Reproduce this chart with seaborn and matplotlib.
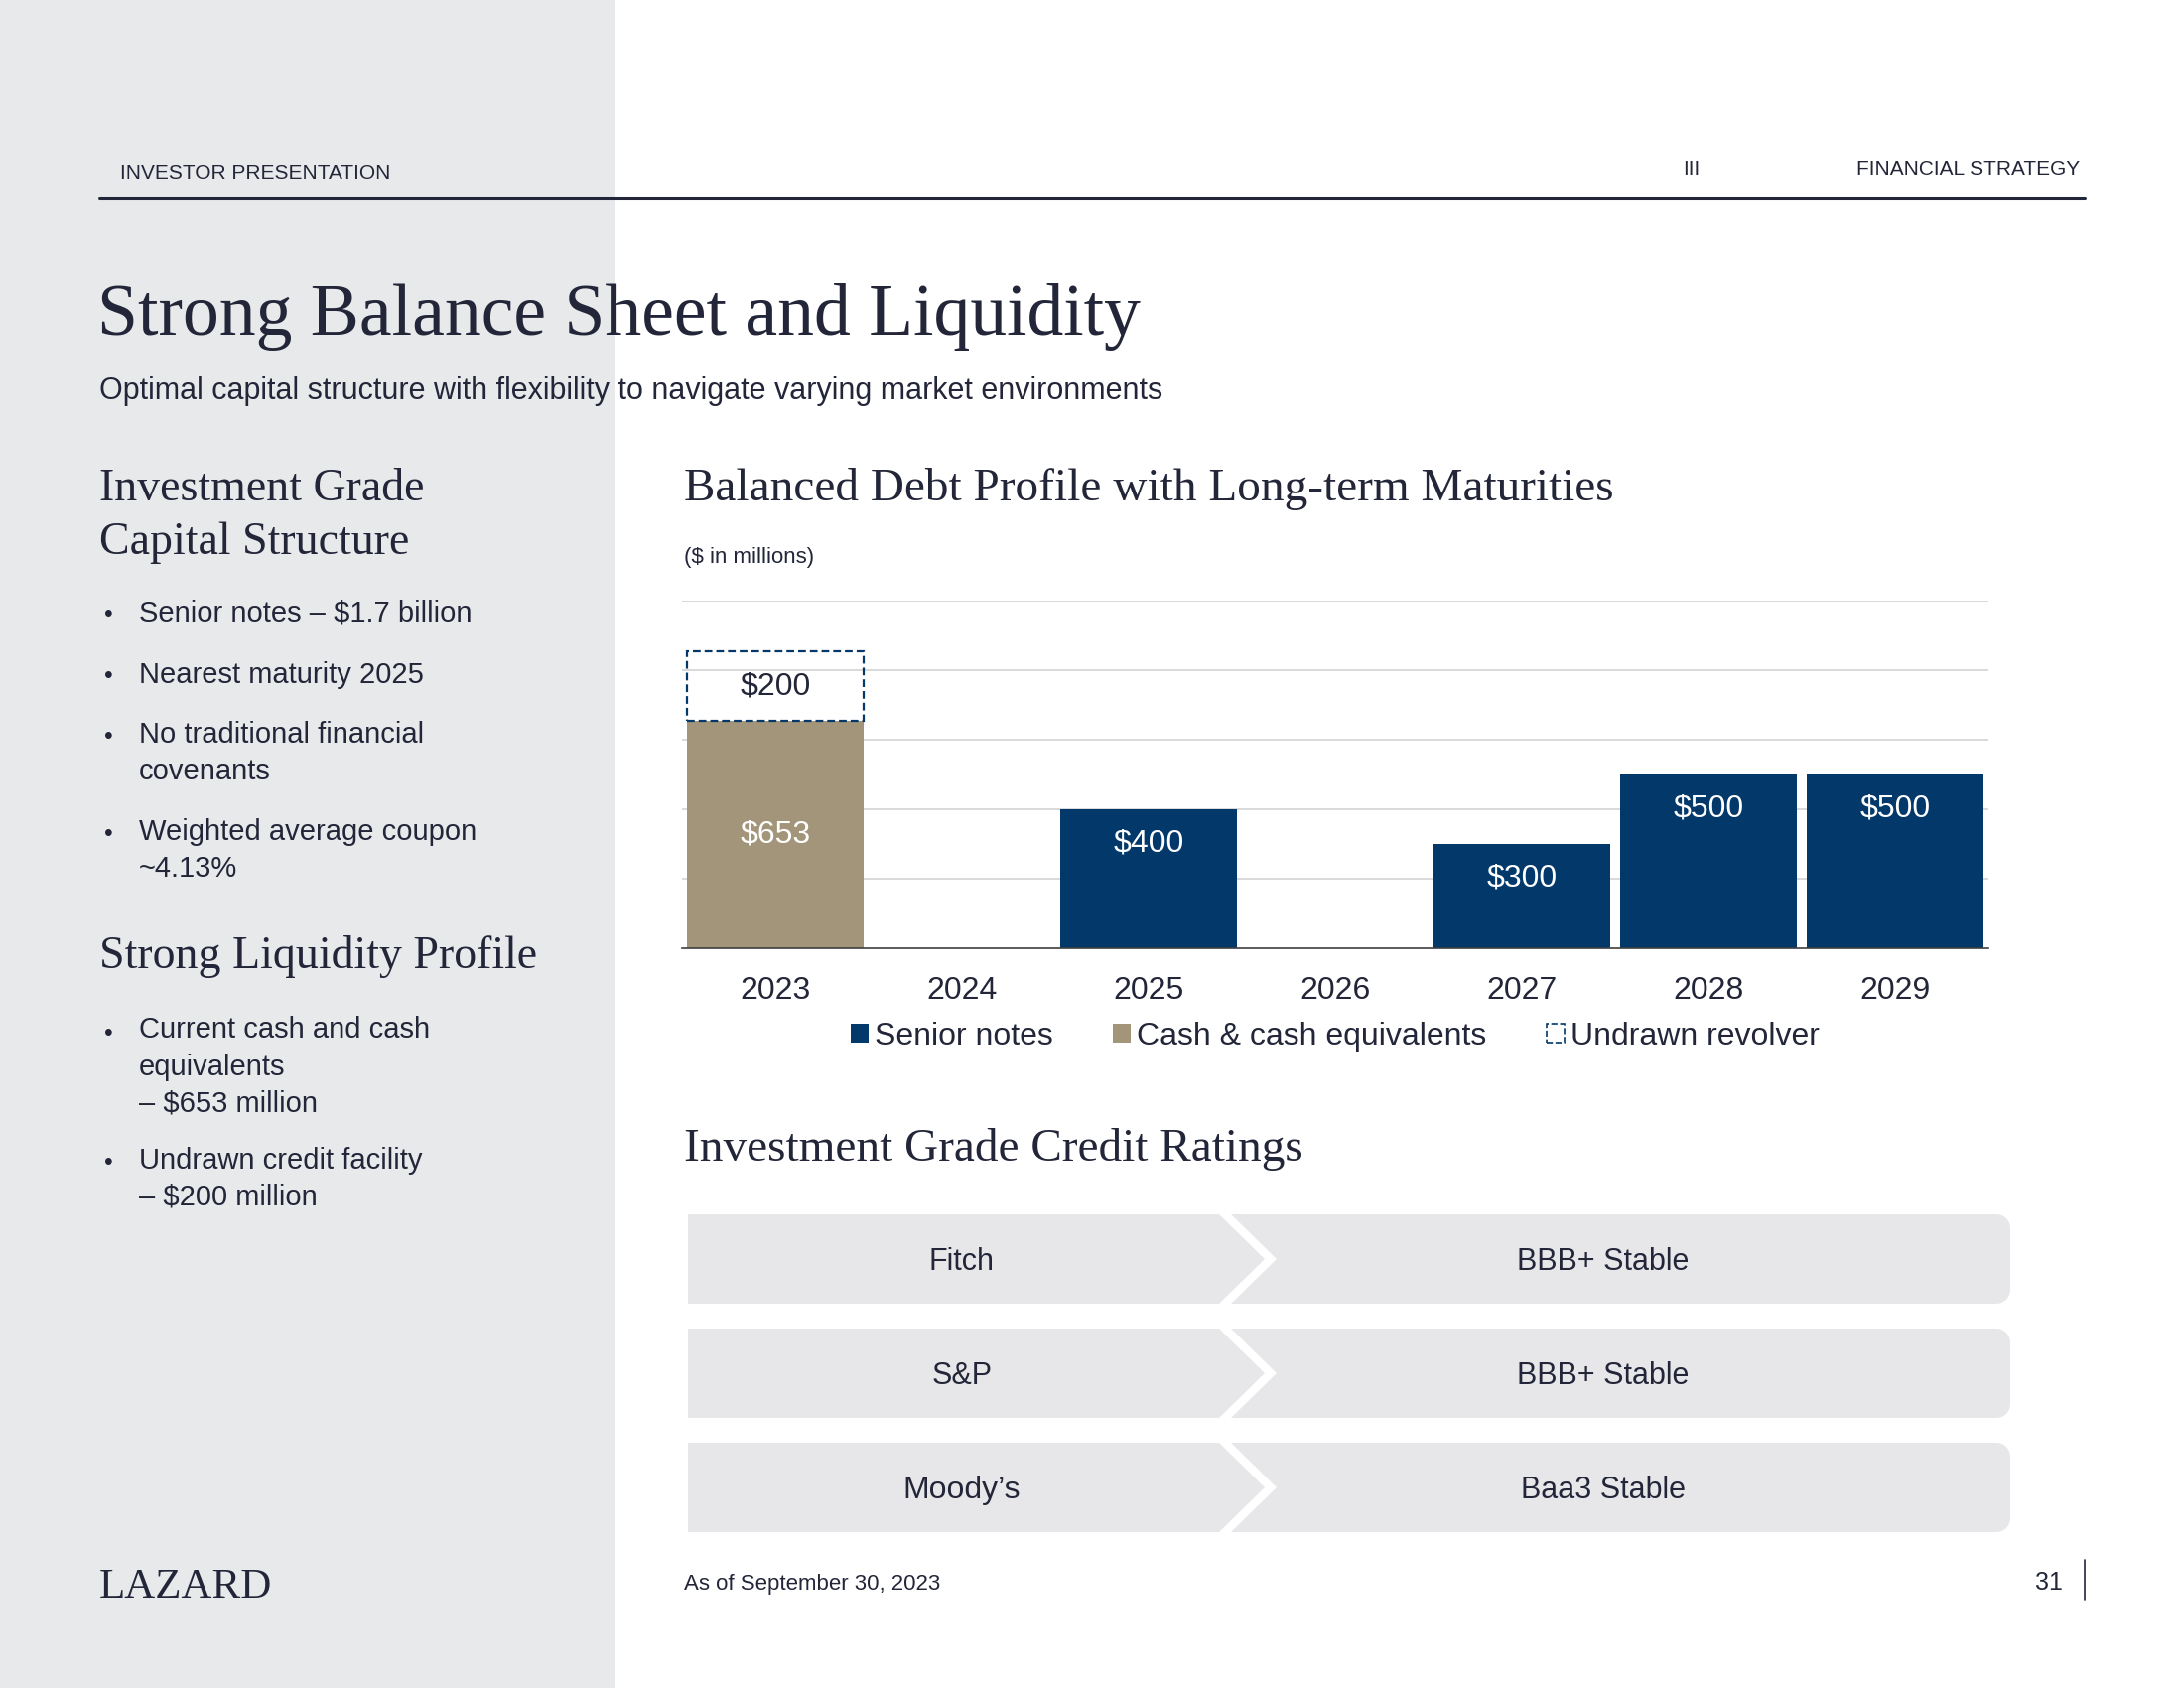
import numpy as np
import pandas as pd
import matplotlib.pyplot as plt
import seaborn as sns
from matplotlib.patches import Polygon, Patch, Rectangle

# Data
years = ['2023', '2024', '2025', '2026', '2027', '2028', '2029']
senior_years = ['2025', '2027', '2028', '2029']
senior_values = [400, 300, 500, 500]
cash_years = ['2023']
cash_values = [653]
revolver_years = ['2023']
revolver_values = [200]
series_names = ['Senior notes', 'Cash & cash equivalents', 'Undrawn revolver']

agencies = ['Fitch', 'S&P', 'Moody\u2019s']
ratings = ['BBB+ Stable', 'BBB+ Stable', 'Baa3 Stable']

capital_bullets = ['Senior notes \u2013 $1.7 billion',
                   'Nearest maturity 2025',
                   'No traditional financial\ncovenants',
                   'Weighted average coupon\n~4.13%']
liquidity_bullets = ['Current cash and cash\nequivalents\n\u2013 $653 million',
                     'Undrawn credit facility\n\u2013 $200 million']

navy = '#02386A'
tan = '#A39579'
ink = '#232639'
panel = '#E8E9EB'
box = '#E7E7E9'

sns.set_style('white')
plt.rcParams['font.family'] = ['Liberation Sans', 'DejaVu Sans']
serif = ['Liberation Serif', 'DejaVu Serif']

fig = plt.figure(figsize=(22, 17), dpi=100)
fig.patch.set_facecolor('white')

# background layer in pixel coordinates
bg = fig.add_axes([0, 0, 1, 1])
bg.set_xlim(0, 2200)
bg.set_ylim(1700, 0)
bg.axis('off')
bg.add_patch(Rectangle((0, 0), 620, 1700, color=panel, lw=0))
bg.plot([100, 2100], [199, 199], color=ink, lw=2.2)


def block(x, y, s, pitch, **kw):
    # y is the baseline of the first line; matplotlib anchors the last one
    n = s.count('\n')
    bg.text(x, y + n * pitch, s, va='baseline', **kw)


bg.text(121, 174, 'INVESTOR PRESENTATION', fontsize=15, color=ink, va='center')
bg.text(1695, 170, 'III', fontsize=15, color=ink, va='center')
bg.text(2095, 170, 'FINANCIAL STRATEGY', fontsize=15, color=ink, va='center', ha='right')

bg.text(98, 337, 'Strong Balance Sheet and Liquidity', family=serif, fontsize=53,
        color=ink, va='baseline')
bg.text(100, 394, 'Optimal capital structure with flexibility to navigate varying market environments',
        fontsize=22, color=ink, va='center')

# left column
block(100, 506, 'Investment Grade\nCapital Structure', 52, family=serif, fontsize=33,
      color=ink, linespacing=1.36)
ys = [626, 688, 749, 847]
for y, s in zip(ys, capital_bullets):
    bg.text(105, y, '\u2022', fontsize=18, color=ink, va='baseline')
    block(140, y, s, 36, fontsize=21, color=ink, linespacing=1.43)
bg.text(100, 975, 'Strong Liquidity Profile', family=serif, fontsize=33, color=ink, va='baseline')
ys = [1048, 1178]
for y, s in zip(ys, liquidity_bullets):
    bg.text(105, y, '\u2022', fontsize=18, color=ink, va='baseline')
    block(140, y, s, 36, fontsize=21, color=ink, linespacing=1.43)

# chart headings
bg.text(689, 504, 'Balanced Debt Profile with Long-term Maturities', family=serif,
        fontsize=34, color=ink, va='baseline')
bg.text(689, 562, '($ in millions)', fontsize=16, color=ink, va='center')
bg.text(689, 1169, 'Investment Grade Credit Ratings', family=serif, fontsize=34,
        color=ink, va='baseline')

# ratings chevrons
r = 14
ang = np.linspace(0, np.pi / 2, 10)
for i, (agency, rating) in enumerate(zip(agencies, ratings)):
    t = 1223 + i * 115
    h = 90
    left = [(693, t), (1228, t), (1274, t + h / 2), (1228, t + h), (693, t + h)]
    bg.add_patch(Polygon(left, closed=True, color=box, lw=0))
    top_arc = [(2025 - r + r * np.sin(a), t + r - r * np.cos(a)) for a in ang]
    bot_arc = [(2025 - r + r * np.cos(a), t + h - r + r * np.sin(a)) for a in ang]
    right = [(1240, t)] + top_arc + bot_arc + [(1240, t + h), (1286, t + h / 2)]
    bg.add_patch(Polygon(right, closed=True, color=box, lw=0))
    if agency.startswith('Moody'):
        bg.text(969, t + 48, agency, fontsize=23, color=ink, ha='center', va='center')
    else:
        bg.text(969, t + 48, agency, fontsize=22, color=ink, ha='center', va='center')
    bg.text(1615, t + 48, rating, fontsize=22, color=ink, ha='center', va='center')

# footer
bg.text(100, 1609, 'LAZARD', family=serif, fontsize=31, color=ink, va='baseline')
bg.text(689, 1595, 'As of September 30, 2023', fontsize=16, color=ink, va='center')
bg.text(2078, 1594, '31', fontsize=18, color=ink, va='center', ha='right')
bg.plot([2100, 2100], [1571, 1611], color=ink, lw=1.2)

# bar chart
ax = fig.add_axes([687 / 2200, 1 - 955 / 1700, (2003 - 687) / 2200, 350 / 1700])
ax.set_facecolor('none')
df = pd.DataFrame({
    'year': senior_years + cash_years,
    'value': senior_values + cash_values,
    'type': [series_names[0]] * len(senior_years) + [series_names[1]] * len(cash_years),
})
sns.barplot(data=df, x='year', y='value', hue='type', order=years,
            hue_order=series_names[:2], palette=[navy, tan], dodge=False,
            width=0.95, saturation=1, linewidth=0, legend=False, ax=ax)

cash_lookup = dict(zip(cash_years, cash_values))
rev_x = [years.index(y) for y in revolver_years]
rev_bottom = [cash_lookup.get(y, 0) for y in revolver_years]
ax.bar(rev_x, revolver_values, bottom=rev_bottom, width=0.95, fill=False,
       edgecolor=navy, linestyle=(0, (3.5, 1.8)), linewidth=1.6, zorder=3)

for y, v in zip(senior_years, senior_values):
    ax.annotate(f'${v}', (years.index(y), v), xytext=(0, -25), textcoords='offset points',
                ha='center', va='center', color='white', fontsize=23)
for y, v in zip(cash_years, cash_values):
    ax.text(years.index(y), v / 2, f'${v}', ha='center', va='center', color='white', fontsize=23)
for y, v, b in zip(revolver_years, revolver_values, rev_bottom):
    ax.text(years.index(y), b + v / 2, f'${v}', ha='center', va='center', color=ink, fontsize=23)

ax.set_xlim(-0.5, 6.5)
ax.set_ylim(0, 1000)
ax.set_yticks([200, 400, 600, 800, 1000])
ax.yaxis.grid(True, color='#D9D9D9', lw=1.4)
ax.set_axisbelow(True)
ax.set_yticklabels([])
ax.tick_params(axis='y', length=0)
ax.tick_params(axis='x', length=0, labelsize=23, labelcolor=ink, pad=20)
ax.set_xlabel('')
ax.set_ylabel('')
for s in ['top', 'right', 'left']:
    ax.spines[s].set_visible(False)
ax.spines['bottom'].set_color('#404040')
ax.spines['bottom'].set_linewidth(1.2)

handles = [Patch(facecolor=navy, edgecolor='none'),
           Patch(facecolor=tan, edgecolor='none'),
           Patch(facecolor='none', edgecolor=navy, linestyle='--', linewidth=1.2)]
fig.legend(handles, series_names, loc='center', ncol=3,
           bbox_to_anchor=(1345 / 2200, 1 - 1044 / 1700), frameon=False,
           fontsize=23, labelcolor=ink, handlelength=0.55, handleheight=0.55,
           handletextpad=0.2, columnspacing=1.9)

fig.savefig('out.png', dpi=100, facecolor='white')
